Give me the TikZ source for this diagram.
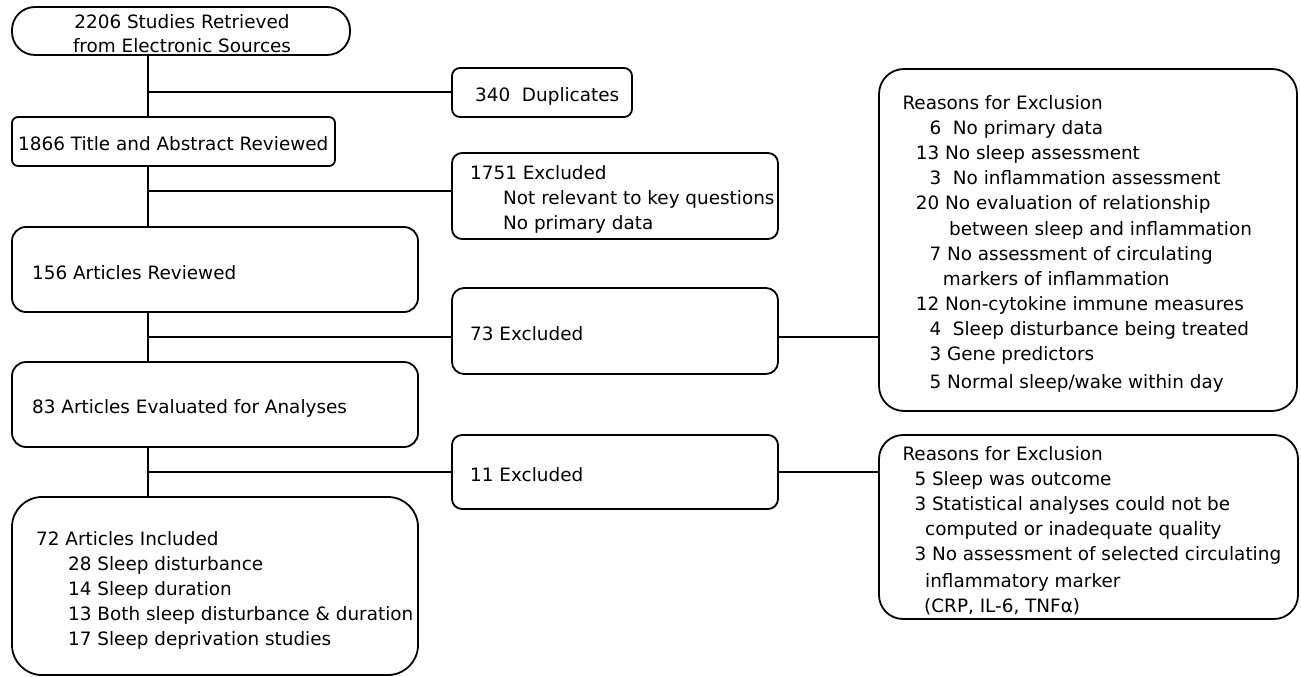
\documentclass[tikz,border=0pt]{standalone}
\usepackage{fontspec}
\setmainfont{DejaVu Sans}
\begin{document}
\begin{tikzpicture}[x=1pt,y=-1pt,
  box/.style={draw, line width=1.8pt, inner sep=0pt, rectangle},
  conn/.style={line width=1.8pt},
  txt/.style={anchor=base west, inner sep=0pt, font=\fontsize{18.4}{22}\selectfont},
  ctxt/.style={anchor=base, inner sep=0pt, font=\fontsize{18.4}{22}\selectfont}]
\useasboundingbox (0,0) rectangle (1301,677);
% boxes
\node[box, minimum width=338pt, minimum height=48pt, rounded corners=23pt] (b1) at (181,31) {};
\node[box, minimum width=323pt, minimum height=49pt, rounded corners=6pt] (b2) at (173.5,141.5) {};
\node[box, minimum width=406pt, minimum height=85pt, rounded corners=14pt] (b3) at (215,269.5) {};
\node[box, minimum width=406pt, minimum height=85pt, rounded corners=14pt] (b4) at (215,404.5) {};
\node[box, minimum width=406pt, minimum height=178pt, rounded corners=30pt] (b5) at (215,586) {};
\node[box, minimum width=180pt, minimum height=49pt, rounded corners=8pt] (dup) at (542,92.5) {};
\node[box, minimum width=326pt, minimum height=86pt, rounded corners=10pt] (e1751) at (615,196) {};
\node[box, minimum width=326pt, minimum height=86pt, rounded corners=12pt] (e73) at (615,331) {};
\node[box, minimum width=326pt, minimum height=74pt, rounded corners=10pt] (e11) at (615,472) {};
\node[box, minimum width=418pt, minimum height=342pt, rounded corners=25pt] (r1) at (1088,240) {};
\node[box, minimum width=419pt, minimum height=184pt, rounded corners=24pt] (r2) at (1088.5,527) {};
% connectors
\coordinate (t) at (148,0);
\coordinate (h1) at (148,92);
\coordinate (h2) at (148,191);
\coordinate (h3) at (148,337);
\coordinate (h4) at (148,472);
\draw[conn] (b1.south -| t) -- (b2.north -| t);
\draw[conn] (b2.south -| t) -- (b3.north -| t);
\draw[conn] (b3.south -| t) -- (b4.north -| t);
\draw[conn] (b4.south -| t) -- (b5.north -| t);
\draw[conn] (h1) -- (h1 -| dup.west);
\draw[conn] (h2) -- (h2 -| e1751.west);
\draw[conn] (h3) -- (h3 -| e73.west);
\draw[conn] (h3 -| e73.east) -- (h3 -| r1.west);
\draw[conn] (h4) -- (h4 -| e11.west);
\draw[conn] (h4 -| e11.east) -- (h4 -| r2.west);
% texts
\node[ctxt] (t1a) at (182,29) {2206 Studies Retrieved};
\node[ctxt] (t1b) at (182,53) {from Electronic Sources};
\node[txt] (t2) at (18,150) {1866 Title and Abstract Reviewed};
\node[txt] (t3) at (32,279) {156 Articles Reviewed};
\node[txt] (t4) at (32,413) {83 Articles Evaluated for Analyses};
\node[txt] (t5a) at (36,545) {72 Articles Included};
\node[txt] (t5b) at (68,570) {28 Sleep disturbance};
\node[txt] (t5c) at (68,595) {14 Sleep duration};
\node[txt] (t5d) at (68,620) {13 Both sleep disturbance \& duration};
\node[txt] (t5e) at (68,645) {17 Sleep deprivation studies};
\node[txt] (tdup) at (475,101) {340\ \ Duplicates};
\node[txt] (te1a) at (470,179.3) {1751 Excluded};
\node[txt] (te1b) at (503,204.3) {Not relevant to key questions};
\node[txt] (te1c) at (503,229.3) {No primary data};
\node[txt] (te73) at (470,340) {73 Excluded};
\node[txt] (te11) at (470,481) {11 Excluded};
% reasons 1
\node[txt] (r1a) at (902.3,109.3) {Reasons for Exclusion};
\node[txt] (r1b) at (929.3,134) {6\ \ No primary data};
\node[txt] (r1c) at (915.7,159.3) {13 No sleep assessment};
\node[txt] (r1d) at (929.3,184) {3\ \ No inflammation assessment};
\node[txt] (r1e) at (915.7,209) {20 No evaluation of relationship};
\node[txt] (r1f) at (949,235.7) {between sleep and inflammation};
\node[txt] (r1g) at (929.3,260.7) {7 No assessment of circulating};
\node[txt] (r1h) at (942.7,285.7) {markers of inflammation};
\node[txt] (r1i) at (915.7,310.7) {12 Non-cytokine immune measures};
\node[txt] (r1j) at (929.3,335.7) {4\ \ Sleep disturbance being treated};
\node[txt] (r1k) at (929.3,360.7) {3 Gene predictors};
\node[txt] (r1l) at (929.3,388.3) {5 Normal sleep/wake within day};
% reasons 2
\node[txt] (r2a) at (902.3,460.7) {Reasons for Exclusion};
\node[txt] (r2b) at (914.3,485.7) {5 Sleep was outcome};
\node[txt] (r2c) at (914.3,510.7) {3 Statistical analyses could not be};
\node[txt] (r2d) at (925,535.7) {computed or inadequate quality};
\node[txt] (r2e) at (914.3,560.7) {3 No assessment of selected circulating};
\node[txt] (r2f) at (925,587.3) {inflammatory marker};
\node[txt] (r2g) at (924,612.3) {(CRP, IL-6, TNFα)};
\end{tikzpicture}
\end{document}
